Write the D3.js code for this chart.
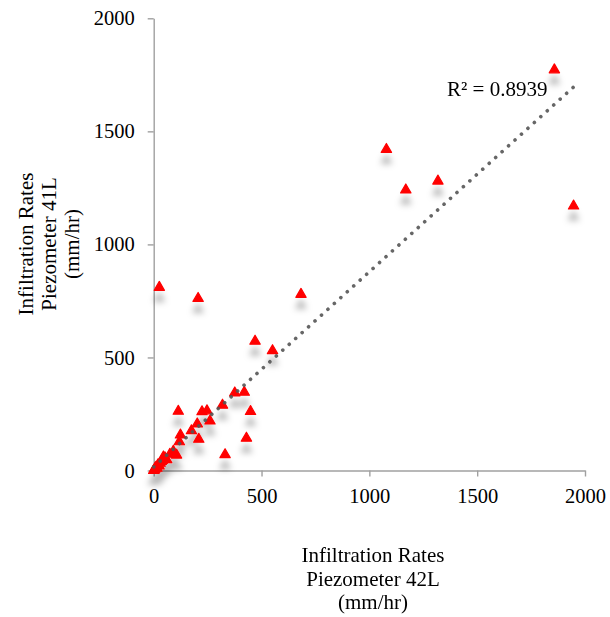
<!DOCTYPE html>
<html>
<head>
<meta charset="utf-8">
<script src="https://cdn.jsdelivr.net/npm/d3@7"></script>
<style>
  body { margin: 0; background: #fff; }
  svg text { font-family: "Liberation Serif", "Times New Roman", serif; fill: #000; }
  .axis path, .axis line { stroke: #a0a0a0; stroke-width: 1.4; }
  .axis text { font-size: 20.5px; }
  .title { font-size: 21px; }
</style>
</head>
<body>
<div id="chart"></div>
<script>
// infiltration rates, piezometer 42L (x) vs 41L (y), mm/hr
var rate42L = [1858, 1947, 1079, 1169, 1318, 26, 206, 683, 470, 551,
               376, 420, 449, 430, 331, 319, 261, 247, 224, 114,
               202, 175, 124, 119, 209, 91, 106, 75, 60, 52,
               45, 40, 35, 30, 25, 20, 15, 12, 8, 5, 3, 0];
var rate41L = [1772, 1170, 1420, 1241, 1280, 810, 761, 779, 572, 530,
               343, 346, 261, 143, 70, 289, 219, 264, 260, 262,
               206, 176, 157, 127, 138, 85, 68, 72, 48, 56,
               60, 45, 40, 32, 20, 25, 10, 15, 12, 6, 2, 0];
var xTicks = [0, 500, 1000, 1500, 2000];
var yTicks = [0, 500, 1000, 1500, 2000];
// linear trendline
var trendSlope = 0.863,
    trendIntercept = 16;
var r2Label = "R\u00b2 = 0.8939";
var xTitle = ["Infiltration Rates", "Piezometer 42L", "(mm/hr)"];
var yTitle = ["Infiltration Rates", "Piezometer 41L", "(mm/hr)"];

var width = 610, height = 617;
var svg = d3.select("#chart").append("svg")
    .attr("width", width)
    .attr("height", height);

var x = d3.scaleLinear().domain([0, 2000]).range([153.7, 585]),
    y = d3.scaleLinear().domain([0, 2000]).range([470.5, 18.3]);

var defs = svg.append("defs");
var shadow = defs.append("filter")
    .attr("id", "shadow")
    .attr("x", "-50%").attr("y", "-50%")
    .attr("width", "200%").attr("height", "300%");
shadow.append("feDropShadow")
    .attr("dx", 0).attr("dy", 11)
    .attr("stdDeviation", 3.4)
    .attr("flood-color", "#000")
    .attr("flood-opacity", 0.28);

svg.append("g")
    .attr("class", "axis axis--x")
    .attr("transform", "translate(0," + y(0) + ")")
    .call(d3.axisBottom(x).tickValues(xTicks).tickFormat(d3.format("d"))
        .tickSize(6).tickSizeOuter(0).tickPadding(12));

svg.append("g")
    .attr("class", "axis axis--y")
    .attr("transform", "translate(" + x(0) + ",0)")
    .call(d3.axisLeft(y).tickValues(yTicks).tickFormat(d3.format("d"))
        .tickSize(6).tickSizeOuter(0).tickPadding(13));

var points = rate42L.map(function(d, i) { return [d, rate41L[i]]; });

var tri = d3.symbol().type(d3.symbolTriangle).size(46);

svg.append("g")
    .attr("filter", "url(#shadow)")
  .selectAll("path")
    .data(points)
    .enter().append("path")
      .attr("d", tri)
      .attr("transform", function(d) { return "translate(" + x(d[0]) + "," + y(d[1]) + ")"; })
      .attr("fill", "#ff0000")
      .attr("stroke", "#ff0000")
      .attr("stroke-width", 1.2)
      .attr("stroke-linejoin", "round");

var xMin = d3.min(rate42L), xMax = d3.max(rate42L);
var trendLine = d3.line()
    .x(function(d) { return x(d); })
    .y(function(d) { return y(trendIntercept + trendSlope * d); });

svg.append("path")
    .attr("d", trendLine([xMin, xMax]))
    .attr("fill", "none")
    .attr("stroke", "#555")
    .attr("stroke-opacity", 0.9)
    .attr("stroke-width", 3.6)
    .attr("stroke-linecap", "round")
    .style("stroke-dasharray", "0.1,8.6");

svg.append("text")
    .attr("class", "title")
    .attr("x", 447)
    .attr("y", 96)
    .text(r2Label);

svg.append("g")
  .selectAll("text")
    .data(xTitle)
    .enter().append("text")
      .attr("class", "title")
      .attr("text-anchor", "middle")
      .attr("x", 373)
      .attr("y", function(d, i) { return 562 + i * 23.5; })
      .text(function(d) { return d; });

svg.append("g")
  .selectAll("text")
    .data(yTitle)
    .enter().append("text")
      .attr("class", "title")
      .attr("text-anchor", "middle")
      .attr("transform", function(d, i) { return "translate(" + (33 + i * 23) + ",244) rotate(-90)"; })
      .text(function(d) { return d; });
</script>
</body>
</html>
